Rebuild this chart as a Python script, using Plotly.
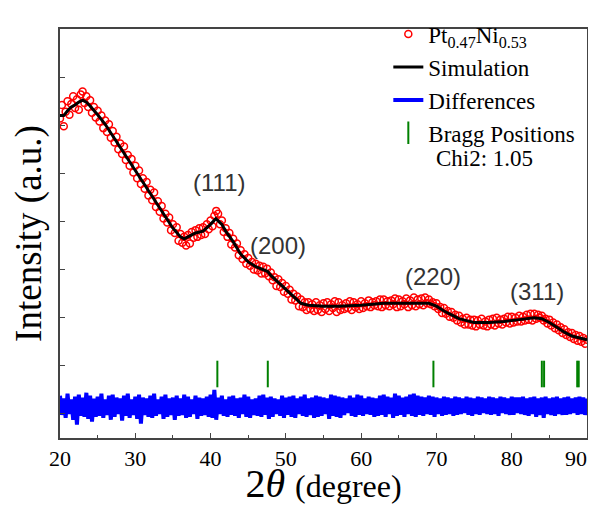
import plotly.graph_objects as go

# 2theta grid for the observed / difference data (0.25 deg steps, 20..90)
two_theta = [20 + 0.25 * i for i in range(281)]

obs = [
    332, 346, 324, 339, 350, 336, 347, 355, 343, 352, 341, 357, 360, 348, 355, 344,
    351, 338, 344, 333, 340, 329, 335, 322, 330, 318, 326, 312, 319, 307, 313, 300,
    306, 295, 303, 289, 294, 283, 290, 276, 283, 270, 278, 264, 270, 259, 266, 252,
    258, 247, 255, 240, 246, 235, 241, 228, 233, 224, 229, 216, 222, 213, 219, 205,
    212, 203, 209, 200, 211, 202, 214, 208, 216, 209, 218, 211, 219, 212, 222, 217,
    226, 220, 231, 236, 233, 222, 226, 214, 218, 209, 213, 201, 207, 198, 202, 190,
    195, 186, 191, 181, 187, 179, 183, 175, 181, 174, 179, 171, 178, 171, 176, 168,
    172, 164, 167, 158, 165, 157, 161, 152, 158, 150, 154, 144, 150, 143, 147, 137,
    144, 136, 141, 133, 141, 134, 139, 132, 141, 133, 138, 131, 140, 134, 141, 132,
    139, 135, 142, 131, 141, 133, 138, 134, 140, 135, 142, 133, 141, 136, 139, 134,
    142, 135, 140, 137, 143, 136, 141, 138, 142, 137, 144, 136, 144, 138, 142, 137,
    143, 139, 145, 136, 144, 137, 142, 139, 145, 136, 143, 138, 146, 137, 144, 139,
    145, 138, 146, 140, 144, 139, 141, 137, 140, 134, 136, 130, 135, 129, 132, 126,
    131, 125, 128, 122, 127, 120, 124, 118, 125, 118, 123, 117, 123, 116, 122, 118,
    124, 117, 121, 116, 123, 118, 124, 117, 125, 119, 123, 118, 124, 120, 126, 119,
    126, 120, 125, 121, 127, 121, 126, 122, 128, 123, 129, 122, 129, 124, 128, 125,
    127, 122, 124, 119, 123, 117, 120, 114, 118, 112, 115, 109, 113, 107, 110, 105,
    109, 103, 107, 101, 106, 100, 104, 98, 102,
]

diff = [
    44, 24, 41, 21, 46, 25, 40, 19, 43, 14, 45, 23, 42, 22, 47, 20,
    44, 17, 41, 22, 43, 23, 46, 21, 40, 24, 44, 19, 45, 22, 42, 25,
    41, 18, 44, 23, 46, 21, 40, 24, 43, 20, 45, 15, 42, 24, 41, 22,
    44, 21, 46, 23, 40, 25, 43, 20, 45, 22, 41, 24, 42, 19, 44, 23,
    41, 24, 45, 21, 43, 22, 40, 25, 44, 20, 42, 23, 41, 24, 43, 22,
    45, 21, 50, 19, 42, 25, 44, 23, 40, 22, 43, 24, 44, 23, 41, 21,
    42, 25, 45, 22, 43, 21, 40, 24, 41, 23, 44, 22, 45, 24, 42, 20,
    43, 22, 41, 25, 40, 23, 44, 21, 42, 24, 43, 22, 44, 21, 41, 25,
    43, 23, 45, 22, 41, 24, 42, 21, 44, 22, 43, 23, 42, 25, 41, 20,
    45, 23, 44, 22, 43, 21, 42, 24, 41, 26, 44, 23, 42, 22, 45, 24,
    44, 23, 41, 25, 43, 24, 42, 22, 41, 23, 44, 24, 45, 22, 43, 25,
    42, 21, 46, 23, 44, 24, 42, 22, 43, 25, 45, 23, 46, 22, 44, 24,
    43, 23, 42, 25, 44, 24, 43, 22, 42, 25, 41, 23, 43, 24, 42, 25,
    41, 23, 43, 24, 42, 25, 41, 26, 43, 24, 42, 23, 41, 25, 43, 24,
    42, 26, 41, 25, 43, 24, 42, 25, 41, 23, 43, 26, 42, 25, 41, 24,
    43, 24, 42, 26, 42, 25, 43, 24, 41, 23, 42, 25, 43, 22, 41, 24,
    42, 21, 43, 25, 41, 24, 42, 23, 43, 25, 41, 24, 42, 24, 43, 25,
    41, 26, 42, 24, 43, 25, 42, 24, 41,
]

# calculated profile read at the kinks of the black line
sim_x = [20.0, 20.5, 21.0, 21.5, 22.0, 22.5, 23.0, 23.5, 24.0, 24.5, 25.0, 26.0, 27.0,
         28.0, 29.0, 30.0, 31.0, 32.0, 33.0, 34.0, 35.0, 36.0, 36.5, 37.0, 38.0, 39.0,
         40.0, 40.7, 41.5, 42.0, 43.0, 44.0, 45.0, 46.0, 47.0, 47.6, 48.0, 49.0, 50.0,
         51.0, 52.0, 53.0, 55.0, 57.0, 60.0, 63.0, 66.0, 69.0, 70.0, 71.0, 72.0, 73.0,
         74.0, 75.0, 77.0, 79.0, 81.0, 83.0, 84.0, 85.0, 86.0, 87.0, 88.0, 89.0, 90.0]
sim_y = [335, 335, 340, 344, 346, 349, 351, 349, 345, 341, 336, 326, 314,
         301, 290, 277, 265, 253, 241, 229, 218, 209, 207, 209, 213, 215,
         222, 228, 222, 215, 204, 191, 183, 178, 175, 173, 169, 162, 155,
         147, 140, 138, 137, 137, 138, 140, 140, 140, 137, 132, 128, 124,
         122, 120, 120, 121, 123, 125, 124, 120, 115, 110, 106, 104, 102]

bragg_x = [40.9, 47.6, 69.6, 84.0, 84.3, 88.7, 88.9]
bragg_y = [66.5] * len(bragg_x)

peak_labels = ["(111)", "(200)", "(220)", "(311)"]
peak_x = [41.1, 48.9, 69.6, 83.3]
peak_y = [266, 200, 168, 152]

x_ticks = [20, 30, 40, 50, 60, 70, 80, 90]
# last label is nudged left (trailing em space) so it stays inside the page
x_ticktext = ["20", "30", "40", "50", "60", "70", "80", "90\u2003"]

serif = "Liberation Serif"

fig = go.Figure()
fig.add_trace(go.Scatter(
    x=two_theta, y=obs, mode="markers", name="Pt<sub>0.47</sub>Ni<sub>0.53</sub>",
    marker=dict(symbol="circle-open", size=7, color="red", line=dict(width=1.5))))
fig.add_trace(go.Scatter(
    x=sim_x, y=sim_y, mode="lines", name="Simulation",
    line=dict(color="black", width=3)))
fig.add_trace(go.Scatter(
    x=two_theta, y=diff, mode="lines", name="Differences",
    line=dict(color="blue", width=4)))
fig.add_trace(go.Scatter(
    x=bragg_x, y=bragg_y, mode="markers", name="Bragg Positions",
    marker=dict(symbol="line-ns", size=19, color="green",
                line=dict(color="green", width=2))))

for t, px_, py_ in zip(peak_labels, peak_x, peak_y):
    fig.add_annotation(x=px_, y=py_, text=t, showarrow=False,
                       font=dict(family="Liberation Sans", size=24, color="#333"))

fig.add_annotation(x=0.805, y=0.684, xref="paper", yref="paper", text="Chi2: 1.05",
                   xanchor="center", yanchor="middle", showarrow=False,
                   font=dict(family=serif, size=23, color="black"))

# the page body adds an 8px margin, so the figure is shrunk by that
# and the margins shifted to compensate
fig.update_layout(
    width=588, height=498,
    margin=dict(l=52, r=9, t=5, b=68),
    paper_bgcolor="white", plot_bgcolor="white",
    font=dict(family=serif, color="black"),
    showlegend=True,
    legend=dict(x=0.623, y=1.04, xanchor="left", yanchor="top",
                font=dict(family=serif, size=23, color="black"),
                bgcolor="rgba(0,0,0,0)", tracegroupgap=0),
    xaxis=dict(range=[20, 90], tickvals=x_ticks, ticktext=x_ticktext,
               ticks="inside", ticklen=5,
               showline=True, linecolor="#444", linewidth=1.5, mirror=True,
               showgrid=False, zeroline=False, automargin=False,
               ticklabeloverflow="allow",
               tickfont=dict(family=serif, size=22, color="black"),
               minor=dict(dtick=5, ticks="inside", ticklen=3, tickcolor="#444"),
               title=dict(text="2<i>θ</i> <span style='font-size:32px'>(degree)</span>",
                          font=dict(family=serif, size=40, color="black"), standoff=4)),
    yaxis=dict(range=[0, 425], tick0=25, dtick=50, ticks="inside", ticklen=5,
               showticklabels=False, automargin=False,
               showline=True, linecolor="#444", linewidth=1.5, mirror=True,
               showgrid=False, zeroline=False,
               title=dict(text="Intensity (a.u.)",
                          font=dict(family=serif, size=37, color="black"), standoff=6)),
)

fig.write_html("out.html")
